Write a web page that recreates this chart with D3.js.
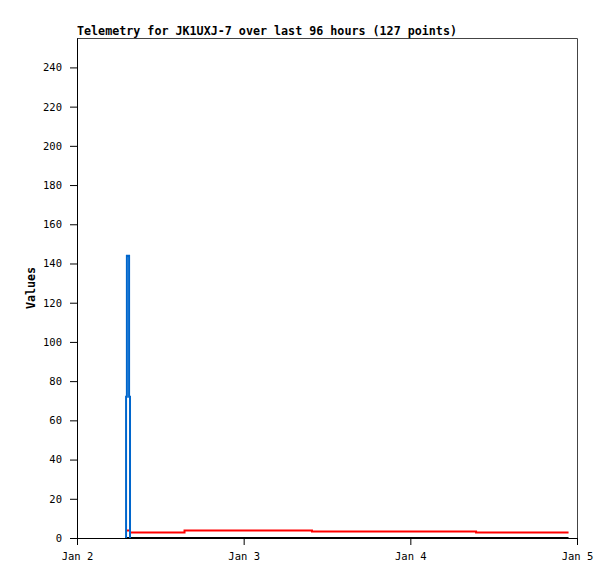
<!DOCTYPE html>
<html>
<head>
<meta charset="utf-8">
<script src="https://cdn.jsdelivr.net/npm/d3@7"></script>
<style>
  body { margin: 0; background: #fff; }
  text { font-family: "DejaVu Sans Mono", monospace; }
</style>
</head>
<body>
<script>
// telemetry series (UTC times), drawn as step lines
const blueTimes = ["2021-01-02T07:04Z", "2021-01-02T07:04Z", "2021-01-02T07:11Z", "2021-01-02T07:30Z", "2021-01-02T07:38Z"];
const blueValues = [0, 72, 144, 72, 0];

const redTimes = ["2021-01-02T07:12Z", "2021-01-02T07:38Z", "2021-01-02T15:29Z", "2021-01-03T09:50Z", "2021-01-04T09:28Z", "2021-01-04T22:47Z"];
const redValues = [3.8, 2.8, 3.8, 3.3, 2.8, 2.8];

const blackTimes = ["2021-01-02T06:55Z", "2021-01-04T22:47Z"];
const blackValues = [0, 0];

const xDomain = ["2021-01-02T00:00Z", "2021-01-05T00:00Z"];
const yTicks = [0, 20, 40, 60, 80, 100, 120, 140, 160, 180, 200, 220, 240];
const yMax = 255;

const titleText = "Telemetry for JK1UXJ-7 over last 96 hours (127 points)";

var margin = {top: 38, right: 38, bottom: 41, left: 77},
    w = 615 - margin.left - margin.right,
    h = 579 - margin.top - margin.bottom;

var svg = d3.select("body").append("svg")
    .attr("width", 615)
    .attr("height", 579);

var g = svg.append("g")
    .attr("transform", "translate(" + margin.left + "," + margin.top + ")");

var x = d3.scaleUtc()
    .domain(xDomain.map(d => new Date(d)))
    .range([0, w]);

var y = d3.scaleLinear()
    .domain([0, yMax])
    .range([h, 0]);

function toPoints(times, values) {
    return times.map((t, i) => ({t: new Date(t), v: values[i]}));
}

// frame (top + right)
g.append("path")
    .attr("d", "M0,0.5H" + (w + 0.5) + "V" + h)
    .attr("fill", "none")
    .attr("stroke", "#444")
    .attr("stroke-width", 1);

// axes
var yAxis = g.append("g")
    .call(d3.axisLeft(y).tickValues(yTicks).tickSize(7).tickPadding(8).tickSizeOuter(0));
var xAxis = g.append("g")
    .attr("transform", "translate(0," + h + ")")
    .call(d3.axisBottom(x).ticks(d3.utcDay.every(1)).tickFormat(d3.utcFormat("%b %-d")).tickSize(7).tickPadding(8).tickSizeOuter(0));

[yAxis, xAxis].forEach(a => {
    a.select(".domain").attr("stroke", "#000");
    a.selectAll(".tick line").attr("stroke", "#000");
    a.selectAll("text")
        .attr("fill", "#000")
        .style("font-family", "'DejaVu Sans Mono', monospace")
        .style("font-size", "10.5px");
});

var line = d3.line()
    .x(d => x(d.t))
    .y(d => y(d.v))
    .curve(d3.curveStepAfter);

g.append("path")
    .datum(toPoints(redTimes, redValues))
    .attr("d", line)
    .attr("fill", "none")
    .attr("stroke", "#ff0000")
    .attr("stroke-width", 2);

g.append("path")
    .datum(toPoints(blackTimes, blackValues))
    .attr("d", line)
    .attr("fill", "none")
    .attr("stroke", "#000")
    .attr("stroke-width", 2);

g.append("path")
    .datum(toPoints(blueTimes, blueValues))
    .attr("d", line)
    .attr("fill", "none")
    .attr("stroke", "#0066cc")
    .attr("stroke-width", 2);

// title
svg.append("text")
    .attr("x", margin.left)
    .attr("y", 35)
    .style("font-size", "11.7px")
    .style("font-weight", "bold")
    .text(titleText);

// y label
svg.append("text")
    .attr("transform", "translate(35," + (margin.top + h / 2) + ") rotate(-90)")
    .attr("text-anchor", "middle")
    .style("font-size", "11.7px")
    .style("font-weight", "bold")
    .text("Values");
</script>
</body>
</html>
